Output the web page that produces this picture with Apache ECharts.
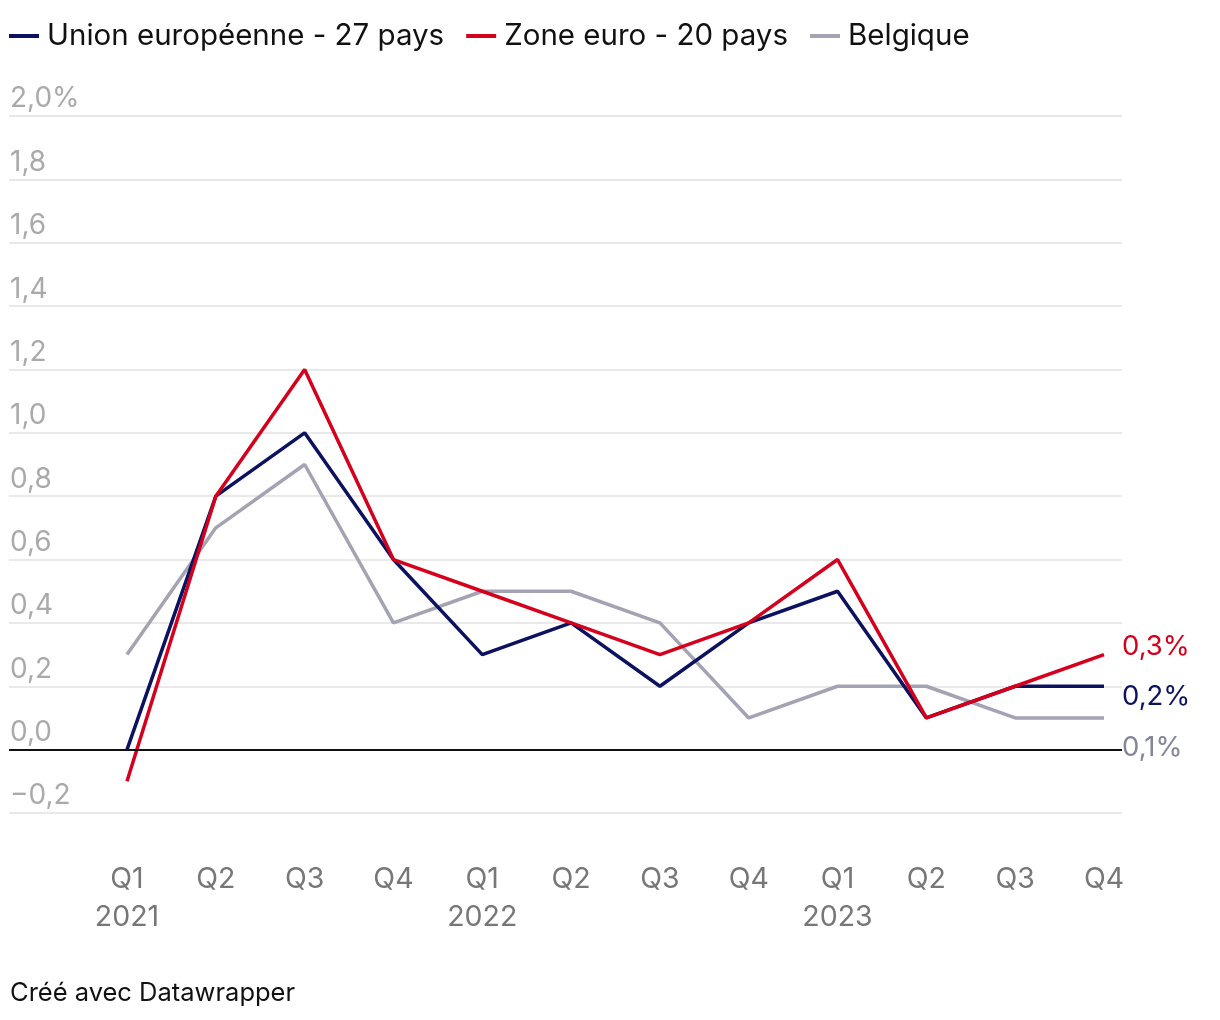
<meta charset="utf-8" />
<style>
html, body { margin: 0; padding: 0; background: #fff; }
#chart { width: 1220px; height: 1020px; }
</style>
<div id="chart"></div>
<script src="https://cdn.jsdelivr.net/npm/echarts@6.0.0/dist/echarts.min.js"></script>
<script>
const quarters = ['Q1\n2021', 'Q2', 'Q3', 'Q4', 'Q1\n2022', 'Q2', 'Q3', 'Q4', 'Q1\n2023', 'Q2', 'Q3', 'Q4'];
const ue27 = [0.0, 0.8, 1.0, 0.6, 0.3, 0.4, 0.2, 0.4, 0.5, 0.1, 0.2, 0.2];
const zoneEuro = [-0.1, 0.8, 1.2, 0.6, 0.5, 0.4, 0.3, 0.4, 0.6, 0.1, 0.2, 0.3];
const belgique = [0.3, 0.7, 0.9, 0.4, 0.5, 0.5, 0.4, 0.1, 0.2, 0.2, 0.1, 0.1];

const FONT = 'Inter, "Noto Sans", sans-serif';
const fmt = v => v.toFixed(1).replace('.', ',').replace('-', '\u2212');

const chart = echarts.init(document.getElementById('chart'));

const serie = (name, data, color, labelColor, offsetY) => ({
  name,
  type: 'line',
  xAxisIndex: 1,
  yAxisIndex: 1,
  data,
  symbol: 'none',
  lineStyle: { color, width: 3.5 },
  itemStyle: { color },
  endLabel: {
    show: true,
    formatter: p => fmt(p.value) + '%',
    color: labelColor,
    fontFamily: FONT,
    fontSize: 27.5,
    offset: [10, offsetY]
  },
  emphasis: { disabled: true }
});

chart.setOption({
  animation: false,
  legend: {
    left: 4,
    top: 16,
    itemWidth: 30,
    itemHeight: 4,
    itemGap: 22,
    icon: 'rect',
    textStyle: { fontFamily: FONT, fontSize: 29.5, color: '#111', padding: [0, 0, 0, 3] },
    data: ['Union européenne - 27 pays', 'Zone euro - 20 pays', 'Belgique']
  },
  grid: [
    { left: 9, right: 98, top: 116, bottom: 207 },
    { left: 127, right: 116, top: 116, bottom: 207 }
  ],
  xAxis: [
    { gridIndex: 0, type: 'value', min: 0, max: 1, show: false },
    {
      gridIndex: 1,
      type: 'category',
      data: quarters,
      boundaryGap: false,
      axisLine: { show: false },
      axisTick: { show: false },
      axisLabel: {
        color: '#777',
        fontFamily: FONT,
        fontSize: 28.5,
        lineHeight: 38,
        margin: 47,
        interval: 0
      }
    }
  ],
  yAxis: [
    {
      gridIndex: 0,
      type: 'value',
      min: -0.2,
      max: 2.0,
      interval: 0.2,
      axisLine: { show: false },
      axisTick: { show: false },
      splitLine: { lineStyle: { color: '#e2e2e2', width: 1.5 } },
      axisLabel: {
        inside: true,
        align: 'left',
        verticalAlign: 'bottom',
        margin: 1,
        padding: [0, 0, 3, 0],
        color: '#aaa',
        fontFamily: FONT,
        fontSize: 28,
        formatter: v => {
          const r = Math.round(v * 10) / 10;
          return Math.abs(r - 2) < 1e-9 ? fmt(r) + '%' : fmt(r);
        }
      }
    },
    {
      gridIndex: 1,
      type: 'value',
      min: -0.2,
      max: 2.0,
      interval: 0.2,
      show: false
    }
  ],
  series: [
    {
      name: 'zero',
      type: 'line',
      xAxisIndex: 0,
      yAxisIndex: 0,
      data: [],
      silent: true,
      markLine: {
        symbol: 'none',
        silent: true,
        label: { show: false },
        lineStyle: { color: '#111', width: 2, type: 'solid' },
        data: [{ yAxis: 0 }]
      }
    },
    serie('Belgique', belgique, '#a3a3b3', '#84849a', 30),
    serie('Union européenne - 27 pays', ue27, '#0c1260', '#0c1260', 10),
    serie('Zone euro - 20 pays', zoneEuro, '#d5001c', '#d5001c', -8)
  ],
  graphic: [
    {
      type: 'text',
      left: 10,
      top: 980,
      style: { text: 'Créé avec Datawrapper', font: '25.5px ' + FONT, fill: '#111' }
    }
  ]
});

addEventListener('resize', () => chart.resize());
</script>
